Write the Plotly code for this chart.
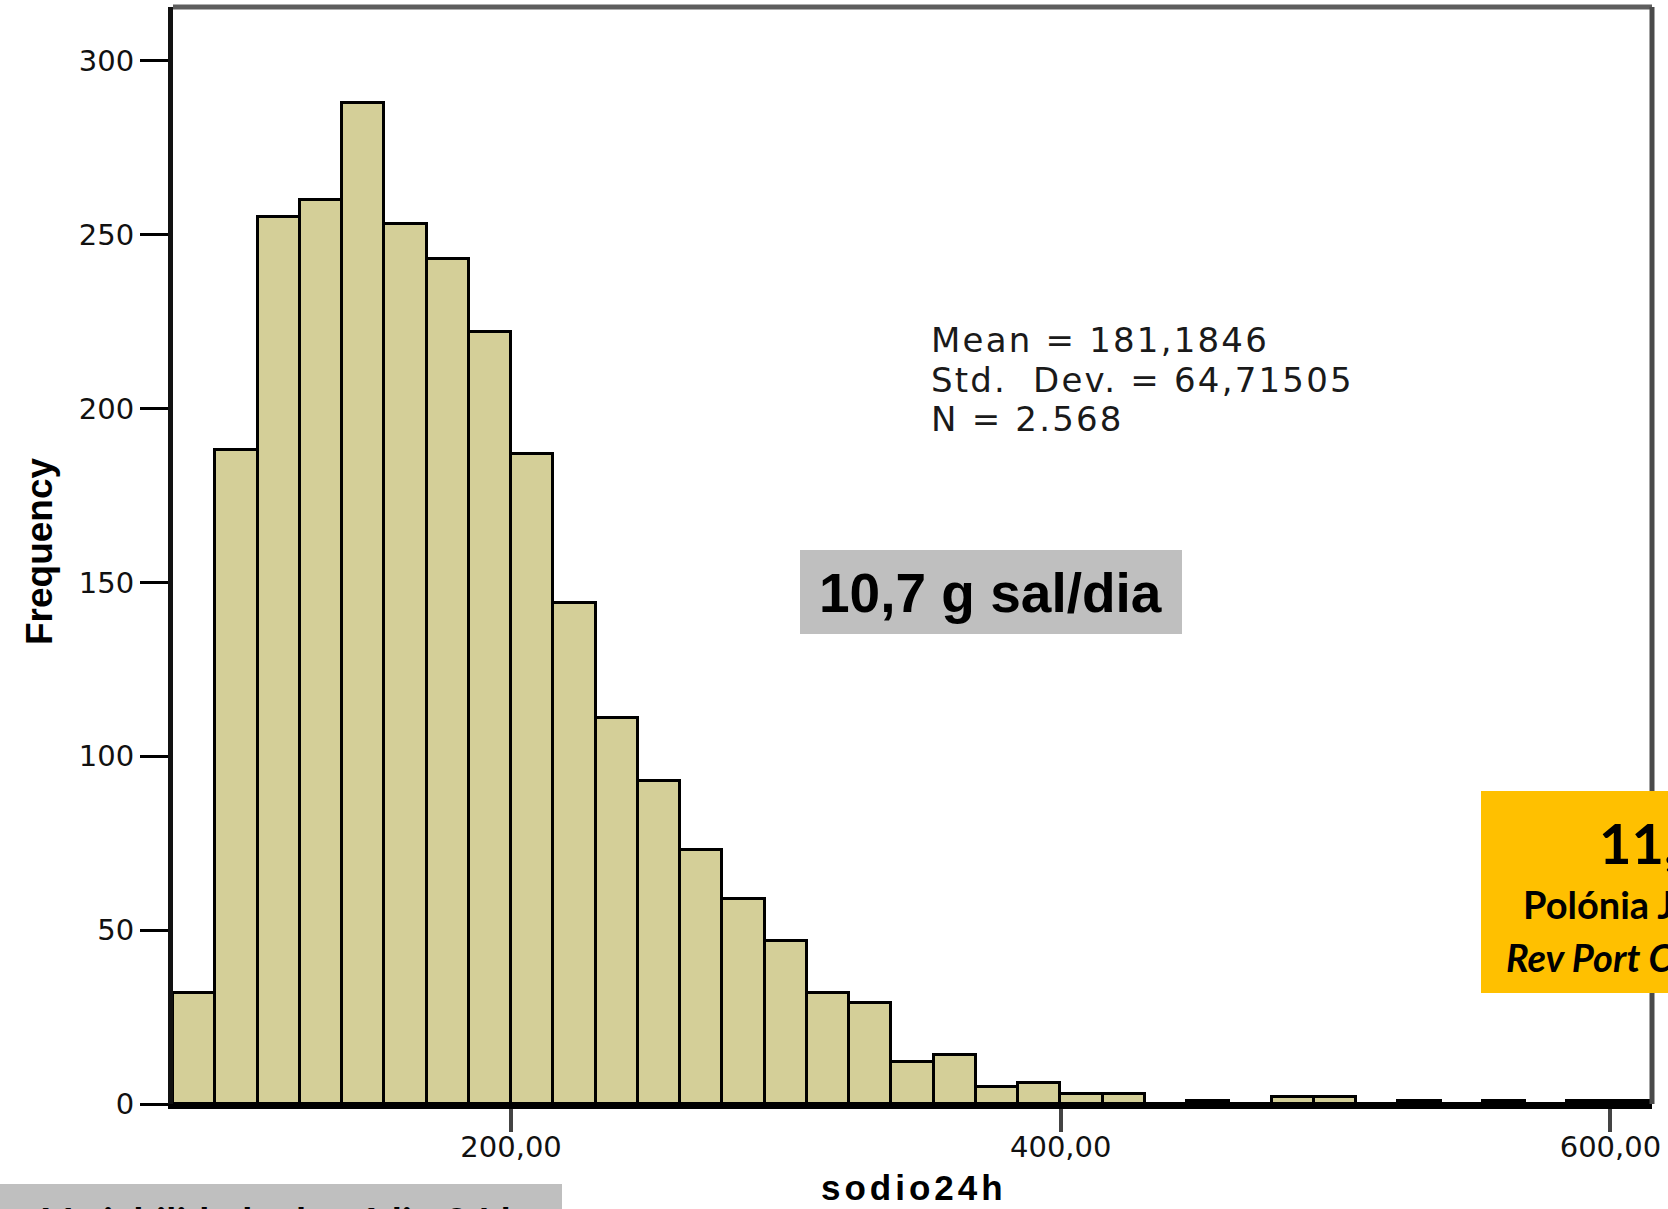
import plotly.graph_objects as go

# ---------------- data ----------------
counts = [32, 188, 255, 260, 288, 253, 243, 222, 187, 144, 111, 93, 73, 59, 47,
          32, 29, 12, 14, 5, 6, 3, 3, 0, 1, 0, 2, 2, 0, 1, 0, 1, 0, 1, 1]
bin_start = 77.0
bin_width = 15.375
x_tickvals = [200, 400, 600]
x_ticktext = ["200,00", "400,00", "600,00"]
y_tickvals = [0, 50, 100, 150, 200, 250, 300]
y_ticktext = ["0", "50", "100", "150", "200", "250", "300"]
stats_lines = ["Mean = 181,1846", "Std.  Dev. = 64,71505", "N = 2.568"]
x_title = "sodio24h"
y_title = "Frequency"
box_text = "10,7 g sal/dia"
orange_lines = ["11,9 g sal/dia", "Polónia J, et al.", "Rev Port Cardiol"]
bottom_text = "Variabilidade do sódio 24 h"

# ---------------- layout geometry ----------------
W, H = 1668, 1209
L, R, T, B = 173, 16, 7, 105
PW = W - L - R
PH = H - T - B


def px(x):
    return (x - L) / PW


def py(y):
    return 1 - (y - T) / PH


centers = [bin_start + bin_width * (i + 0.5) for i in range(len(counts))]
x_max = bin_start + bin_width * len(counts)

fig = go.Figure(
    go.Bar(
        x=centers,
        y=counts,
        width=bin_width,
        marker=dict(color="#D4CF98", line=dict(color="#000000", width=3)),
        hoverinfo="x+y",
    )
)

tick_font = dict(family="DejaVu Sans", size=29, color="#111111")

fig.update_layout(
    width=W,
    height=H,
    margin=dict(l=L, r=R, t=T, b=B, pad=0),
    paper_bgcolor="white",
    plot_bgcolor="white",
    showlegend=False,
    bargap=0,
    xaxis=dict(
        range=[bin_start, x_max],
        tickvals=x_tickvals,
        ticktext=x_ticktext,
        ticks="outside",
        ticklen=23,
        tickwidth=4,
        tickcolor="#444444",
        tickfont=tick_font,
        ticklabelstandoff=-10,
        showgrid=False,
        zeroline=False,
        showline=True,
        linecolor="#000000",
        linewidth=5,
    ),
    yaxis=dict(
        range=[0, 315.5],
        tickvals=y_tickvals,
        ticktext=y_ticktext,
        ticks="outside",
        ticklen=28,
        tickwidth=3,
        tickcolor="#000000",
        tickfont=tick_font,
        showgrid=False,
        zeroline=False,
        showline=True,
        linecolor="#111111",
        linewidth=5,
    ),
)

shapes = [
    # top and right frame
    dict(type="line", xref="paper", yref="paper", x0=0, x1=1, y0=1, y1=1,
         line=dict(color="#5E5E5E", width=5)),
    dict(type="line", xref="paper", yref="paper", x0=1, x1=1, y0=0, y1=1,
         line=dict(color="#4A4A4A", width=5)),
    # grey box
    dict(type="rect", xref="paper", yref="paper", x0=px(800), x1=px(1182),
         y0=py(634), y1=py(550), fillcolor="#BFBFBF", line=dict(width=0), layer="above"),
    # orange box
    dict(type="rect", xref="paper", yref="paper", x0=px(1481), x1=px(1720),
         y0=py(993), y1=py(791), fillcolor="#FFC000", line=dict(width=0), layer="above"),
    # bottom-left grey box
    dict(type="rect", xref="paper", yref="paper", x0=px(-5), x1=px(562),
         y0=py(1230), y1=py(1184), fillcolor="#BFBFBF", line=dict(width=0), layer="above"),
]
fig.update_layout(shapes=shapes)

ann = []
for txt, yy in zip(stats_lines, [340, 380, 419]):
    ann.append(dict(x=px(929), y=py(yy), xref="paper", yref="paper", xanchor="left",
                    yanchor="middle", showarrow=False,
                    text='<span style="letter-spacing:2.2px">' + txt + "</span>",
                    font=dict(family="DejaVu Sans", size=34, color="#1A1A1A")))

ann.append(dict(x=px(990), y=py(593), xref="paper", yref="paper", xanchor="center",
                yanchor="middle", showarrow=False, text="<b>" + box_text + "</b>",
                font=dict(family="Liberation Sans", size=55, color="#000000")))

ann.append(dict(x=px(39), y=py(551), xref="paper", yref="paper", xanchor="center",
                yanchor="middle", showarrow=False, textangle=-90,
                text="<b>" + y_title + "</b>",
                font=dict(family="Liberation Sans Narrow, Liberation Sans", size=37,
                          color="#000000")))

ann.append(dict(x=px(914), y=py(1209), xref="paper", yref="paper", xanchor="center",
                yanchor="bottom", showarrow=False,
                text='<span style="letter-spacing:4px"><b>' + x_title + "</b></span>",
                font=dict(family="Liberation Sans", size=35, color="#000000")))

# orange box texts (cut off by page edge, as in the reference)
ann.append(dict(x=px(1597), y=py(842), xref="paper", yref="paper", xanchor="left",
                yanchor="middle", showarrow=False, text="<b>" + orange_lines[0] + "</b>",
                font=dict(family="Lato", size=56, color="#000000")))
ann.append(dict(x=px(1521), y=py(904), xref="paper", yref="paper", xanchor="left",
                yanchor="middle", showarrow=False, text="<b>" + orange_lines[1] + "</b>",
                font=dict(family="Lato", size=38, color="#000000")))
ann.append(dict(x=px(1504), y=py(957), xref="paper", yref="paper", xanchor="left",
                yanchor="middle", showarrow=False,
                text="<b><i>" + orange_lines[2] + "</i></b>",
                font=dict(family="Lato", size=38, color="#000000")))

# bottom-left text (only its top is visible)
ann.append(dict(x=px(40), y=py(1196), xref="paper", yref="paper", xanchor="left",
                yanchor="top", showarrow=False, text="<b>" + bottom_text + "</b>",
                font=dict(family="Lato", size=40, color="#000000")))

fig.update_layout(annotations=ann)

fig.write_html("out.html")
